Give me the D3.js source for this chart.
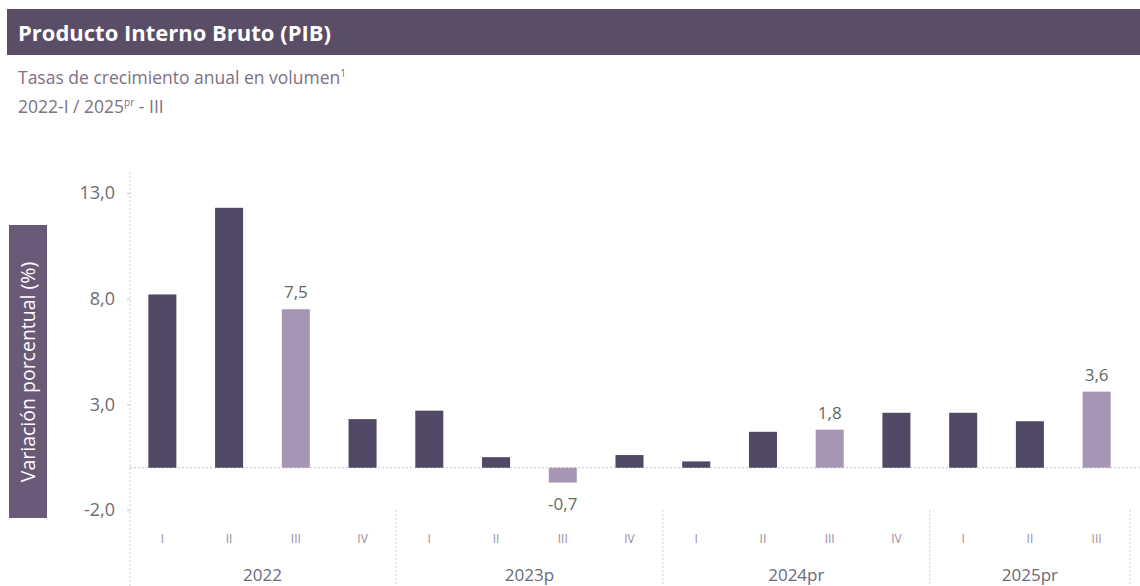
<!DOCTYPE html>
<html>
<head>
<meta charset="utf-8">
<script src="https://cdn.jsdelivr.net/npm/d3@7"></script>
<style>
  body { margin: 0; background: #fff; }
  svg { display: block; font-family: "Open Sans", sans-serif; }
</style>
</head>
<body>
<svg id="chart" width="1140" height="586"></svg>
<script>
// data
const years = ['2022', '2023p', '2024pr', '2025pr']
const quarters = [
  ['I', 'II', 'III', 'IV'],
  ['I', 'II', 'III', 'IV'],
  ['I', 'II', 'III', 'IV'],
  ['I', 'II', 'III']
]
const growth = [
  [8.2, 12.3, 7.5, 2.3],
  [2.7, 0.5, -0.7, 0.6],
  [0.3, 1.7, 1.8, 2.6],
  [2.6, 2.2, 3.6]
]
const yTicks = [-2, 3, 8, 13]
const labelled = ['2022-III', '2023p-III', '2024pr-III', '2025pr-III']

const dark = '#514866'
const light = '#a795b4'

const rows = []
years.forEach((year, i) => {
  quarters[i].forEach((q, j) => {
    rows.push({ key: `${year}-${q}`, year, q, value: growth[i][j] })
  })
})

const svg = d3.select('#chart')
const fmt = v => d3.format('.1f')(v).replace('.', ',').replace('\u2212', '-')

const x = d3.scaleBand()
  .domain(rows.map(d => d.key))
  .range([129, 1130])
  .padding(0)

const y = d3.scaleLinear()
  .domain([-2, 13])
  .range([510, 193])

const barWidth = x.bandwidth() * 0.42

// title bar
svg.append('rect')
  .attr('x', 7).attr('y', 9)
  .attr('width', 1133).attr('height', 46)
  .attr('fill', '#5a4d66')

svg.append('text')
  .attr('x', 18).attr('y', 41)
  .attr('fill', '#fff')
  .attr('font-size', 22)
  .attr('font-weight', 700)
  .text('Producto Interno Bruto (PIB)')

svg.append('text')
  .attr('x', 18).attr('y', 84)
  .attr('fill', '#7d7183')
  .attr('font-size', 17.5)
  .text('Tasas de crecimiento anual en volumen')
  .append('tspan')
  .attr('font-size', 10)
  .attr('dy', -7)
  .text('1')

const sub2 = svg.append('text')
  .attr('x', 18).attr('y', 113)
  .attr('fill', '#7d7183')
  .attr('font-size', 17.5)
sub2.append('tspan').text('2022-I / 2025')
sub2.append('tspan').attr('font-size', 10).attr('dy', -7).text('pr')
sub2.append('tspan').attr('dy', 7).text(' - III')

// y axis title box
svg.append('rect')
  .attr('x', 9).attr('y', 225)
  .attr('width', 38).attr('height', 293)
  .attr('fill', '#6a5a78')

svg.append('text')
  .attr('transform', 'translate(35, 372) rotate(-90)')
  .attr('text-anchor', 'middle')
  .attr('fill', '#fff')
  .attr('font-size', 19.5)
  .text('Variación porcentual (%)')

// y axis
const yAxis = svg.append('g')
  .attr('transform', 'translate(130, 0)')
  .call(d3.axisLeft(y).tickValues(yTicks).tickSize(3).tickPadding(12).tickFormat(fmt))

yAxis.select('.domain').remove()
yAxis.selectAll('.tick line').attr('stroke', '#c8c8c8')
yAxis.selectAll('.tick text')
  .attr('fill', '#706a72')
  .attr('font-size', 18)
  .attr('font-family', '"Open Sans", sans-serif')

svg.append('line')
  .attr('x1', 130).attr('x2', 130)
  .attr('y1', 172).attr('y2', 586)
  .attr('stroke', '#cfcfcf')
  .attr('stroke-dasharray', '2,2')

// zero line
svg.append('line')
  .attr('x1', 130).attr('x2', 1140)
  .attr('y1', y(0)).attr('y2', y(0))
  .attr('stroke', '#c4c4c4')
  .attr('stroke-dasharray', '2,2')

// bars
svg.append('g').selectAll('rect')
  .data(rows)
  .join('rect')
  .attr('x', d => x(d.key) + (x.bandwidth() - barWidth) / 2)
  .attr('y', d => y(Math.max(0, d.value)))
  .attr('width', barWidth)
  .attr('height', d => Math.abs(y(d.value) - y(0)))
  .attr('fill', d => labelled.includes(d.key) ? light : dark)

// value labels
svg.append('g').selectAll('text')
  .data(rows.filter(d => labelled.includes(d.key)))
  .join('text')
  .attr('x', d => x(d.key) + x.bandwidth() / 2)
  .attr('y', d => d.value >= 0 ? y(d.value) - 11 : y(d.value) + 27)
  .attr('text-anchor', 'middle')
  .attr('fill', '#5f6a60')
  .attr('font-size', 17)
  .text(d => fmt(d.value))

// quarter labels
svg.append('g').selectAll('text')
  .data(rows)
  .join('text')
  .attr('x', d => x(d.key) + x.bandwidth() / 2)
  .attr('y', 543)
  .attr('text-anchor', 'middle')
  .attr('fill', '#9a8aa0')
  .attr('font-size', 12)
  .text(d => d.q)

// year groups
const groups = years.map(year => {
  const keys = rows.filter(d => d.year === year).map(d => d.key)
  return { year, x0: x(keys[0]), x1: x(keys[keys.length - 1]) + x.bandwidth() }
})

svg.append('g').selectAll('line')
  .data(groups)
  .join('line')
  .attr('x1', d => d.x1).attr('x2', d => d.x1)
  .attr('y1', 510).attr('y2', 586)
  .attr('stroke', '#cfcfcf')
  .attr('stroke-dasharray', '2,2')

svg.append('g').selectAll('text')
  .data(groups)
  .join('text')
  .attr('x', d => (d.x0 + d.x1) / 2)
  .attr('y', 581)
  .attr('text-anchor', 'middle')
  .attr('fill', '#6c6878')
  .attr('font-size', 17)
  .text(d => d.year)
</script>
</body>
</html>
